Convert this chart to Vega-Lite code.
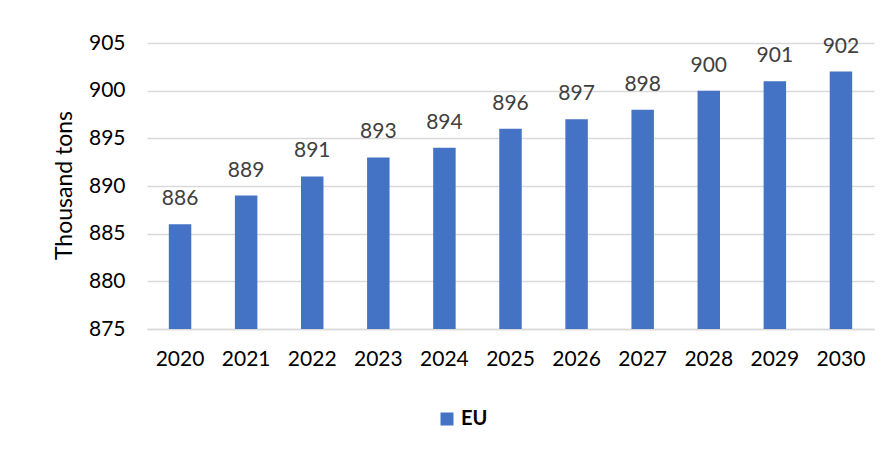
{
  "$schema": "https://vega.github.io/schema/vega-lite/v6.json",
  "autosize": "none",
  "width": 727,
  "height": 286,
  "padding": {"left": 147, "top": 43, "right": 22, "bottom": 131},
  "background": "white",
  "data": {"values": [
    {"year": "2020", "value": 886, "series": "EU"},
    {"year": "2021", "value": 889, "series": "EU"},
    {"year": "2022", "value": 891, "series": "EU"},
    {"year": "2023", "value": 893, "series": "EU"},
    {"year": "2024", "value": 894, "series": "EU"},
    {"year": "2025", "value": 896, "series": "EU"},
    {"year": "2026", "value": 897, "series": "EU"},
    {"year": "2027", "value": 898, "series": "EU"},
    {"year": "2028", "value": 900, "series": "EU"},
    {"year": "2029", "value": 901, "series": "EU"},
    {"year": "2030", "value": 902, "series": "EU"}
  ]},
  "config": {
    "font": "Lato",
    "view": {"stroke": null}
  },
  "encoding": {
    "x": {
      "field": "year", "type": "nominal", "title": null,
      "scale": {"paddingInner": 0.66, "paddingOuter": 0.33},
      "axis": {"labelAngle": 0, "labelFontSize": 21, "labelColor": "#000000", "labelPadding": 19, "ticks": false, "domainColor": "#D9D9D9", "domainWidth": 1.5}
    },
    "y": {
      "field": "value", "type": "quantitative",
      "scale": {"domain": [875, 905], "zero": false, "nice": false},
      "axis": {
        "values": [875, 880, 885, 890, 895, 900, 905],
        "title": "Thousand tons", "titleFontSize": 23, "titleFontWeight": "normal", "titleColor": "#000000",
        "titleAngle": -90, "titleX": -83, "titleY": 142, "titleBaseline": "middle", "titleAlign": "center",
        "labelFontSize": 21, "labelColor": "#000000", "labelPadding": 22,
        "ticks": false, "domain": false, "gridColor": "#D9D9D9", "gridWidth": 1.5
      }
    }
  },
  "layer": [
    {
      "mark": {"type": "bar", "clip": true},
      "encoding": {
        "color": {
          "field": "series", "type": "nominal",
          "scale": {"range": ["#4472C4"]},
          "legend": {
            "title": null, "orient": "none", "legendX": 290, "legendY": 366,
            "symbolType": "square", "symbolSize": 169, "symbolFillColor": "#4472C4", "symbolStrokeWidth": 0, "symbolOpacity": 1,
            "labelFontSize": 20, "labelFontWeight": "bold", "labelColor": "#000000"
          }
        }
      }
    },
    {
      "mark": {"type": "text", "baseline": "bottom", "dy": -15, "fontSize": 21, "color": "#404040"},
      "encoding": {"text": {"field": "value", "type": "quantitative"}}
    }
  ]
}
